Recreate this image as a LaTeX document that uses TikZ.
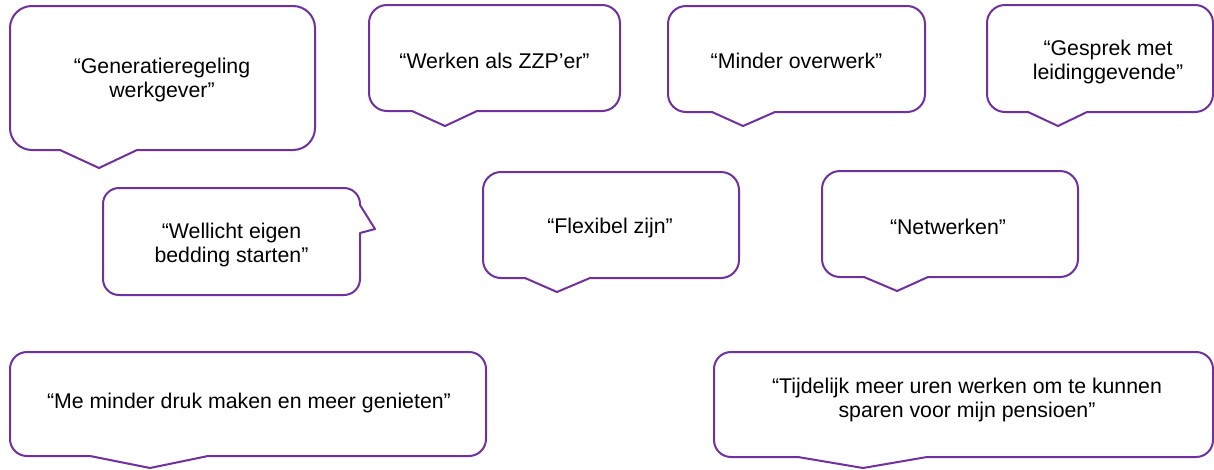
\documentclass[tikz,border=0pt]{standalone}
\usepackage{fontspec}
\setmainfont{Liberation Sans}
\definecolor{bubpurple}{RGB}{112,48,160}
\tikzset{
  bub/.style={draw=bubpurple, line width=2pt, fill=white, line join=round},
  txt/.style={align=center, inner sep=0pt, text=black, font=\fontsize{21.3}{24.5}\selectfont}
}
% x1 y1 x2 y2 r px1 px2 tx ty  (image pixel coords, y downward)
\newcommand\calloutdown[9]{%
  \draw[bub] (#6,-#4) -- (#8,-#9) -- (#7,-#4) -- ({#3-#5},-#4)
    arc[start angle=-90,end angle=0,radius=#5] -- (#3,{-#2-#5})
    arc[start angle=0,end angle=90,radius=#5] -- ({#1+#5},-#2)
    arc[start angle=90,end angle=180,radius=#5] -- (#1,{-#4+#5})
    arc[start angle=180,end angle=270,radius=#5] -- cycle;}
\begin{document}
\begin{tikzpicture}[x=1pt,y=1pt]
\useasboundingbox (0,0) rectangle (1214,-469);
% row 1
\calloutdown{10}{6}{315}{150}{22}{60}{137}{99}{168}
\node[txt] (gen) at (162,-80) {“Generatieregeling\\werkgever”};
\calloutdown{369}{5}{620}{111}{18}{412}{477}{445}{126}
\node[txt] (zzp) at (494.5,-61) {“Werken als ZZP’er”};
\calloutdown{668}{6}{925}{112}{18}{712}{775}{743}{126}
\node[txt] (overwerk) at (796.5,-61) {“Minder overwerk”};
\calloutdown{987}{5}{1213}{112}{18}{1028}{1087}{1058}{126}
\node[txt] (gesprek) at (1108,-62) {“Gesprek met\\leidinggevende”};
% row 2
\draw[bub] (360,-233) -- (375,-229) -- (360,-205) -- (360,{-188-16})
  arc[start angle=0,end angle=90,radius=16] -- ({103+16},-188)
  arc[start angle=90,end angle=180,radius=16] -- (103,{-295+16})
  arc[start angle=180,end angle=270,radius=16] -- ({360-16},-295)
  arc[start angle=270,end angle=360,radius=16] -- cycle;
\node[txt] (wellicht) at (231.5,-245) {“Wellicht eigen\\bedding starten”};
\calloutdown{483}{172}{739}{278}{18}{525}{590}{557}{292}
\node[txt] (flex) at (610,-228) {“Flexibel zijn”};
\calloutdown{822}{171}{1078}{277}{18}{864}{928}{897}{291}
\node[txt] (netw) at (948,-227) {“Netwerken”};
% row 3
\calloutdown{10}{352}{486}{456}{17}{90}{208}{150}{468}
\node[txt] (druk) at (249,-403) {“Me minder druk maken en meer genieten”};
\calloutdown{714}{352}{1213}{457}{17}{798}{927}{863}{468}
\node[txt] (uren) at (967,-400) {“Tijdelijk meer uren werken om te kunnen\\sparen voor mijn pensioen”};
\end{tikzpicture}
\end{document}
